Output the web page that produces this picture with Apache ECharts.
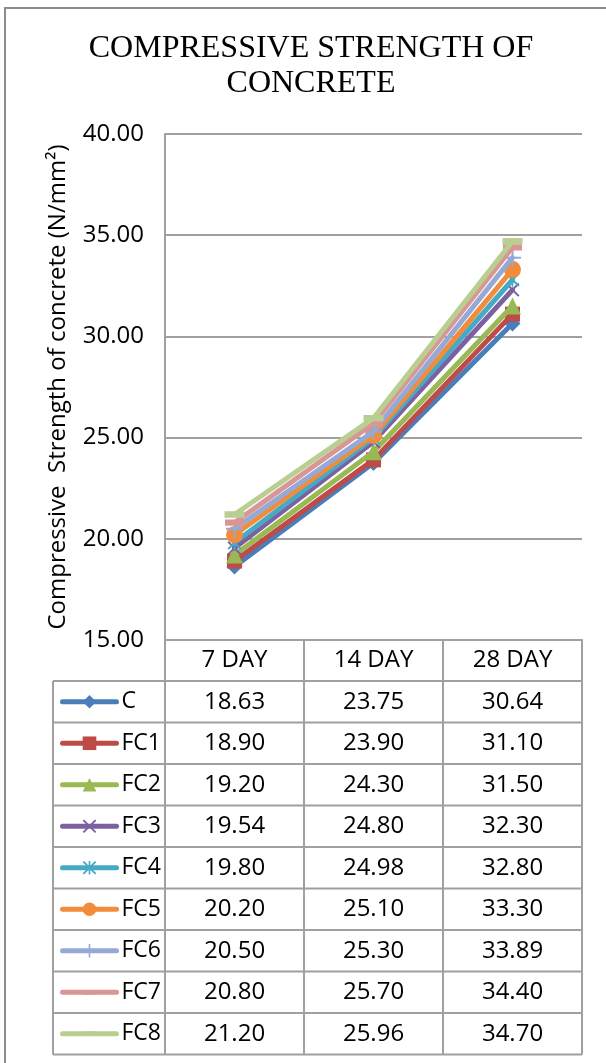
<!DOCTYPE html>
<html><head><meta charset="utf-8">
<script src="https://cdn.jsdelivr.net/npm/echarts@6/dist/echarts.min.js"></script>
<style>html,body{margin:0;padding:0;background:#fff}#c{width:606px;height:1063px}</style>
</head><body><div id="c"></div>
<script>
// ---- data ----
const categories = ['7 DAY', '14 DAY', '28 DAY'];
const seriesNames = ['C', 'FC1', 'FC2', 'FC3', 'FC4', 'FC5', 'FC6', 'FC7', 'FC8'];
const valC   = [18.63, 23.75, 30.64];
const valFC1 = [18.90, 23.90, 31.10];
const valFC2 = [19.20, 24.30, 31.50];
const valFC3 = [19.54, 24.80, 32.30];
const valFC4 = [19.80, 24.98, 32.80];
const valFC5 = [20.20, 25.10, 33.30];
const valFC6 = [20.50, 25.30, 33.89];
const valFC7 = [20.80, 25.70, 34.40];
const valFC8 = [21.20, 25.96, 34.70];
const yMin = 15, yMax = 40, yStep = 5;
const titleLines = ['COMPRESSIVE STRENGTH OF', 'CONCRETE'];
const yAxisName = 'Compressive  Strength of concrete (N/mm\u00B2)';

const allValues = [valC, valFC1, valFC2, valFC3, valFC4, valFC5, valFC6, valFC7, valFC8];

// ---- styles ----
const colors = ['#4a7ebb', '#be4b48', '#98b954', '#7d60a0', '#46aac5', '#f08c3c', '#93aad6', '#d99694', '#b8cf91'];
const symX = 'path://M1,0 L5,4 L9,0 L10,1 L6,5 L10,9 L9,10 L5,6 L1,10 L0,9 L4,5 L0,1 Z';
const symStar = 'path://M1,0 L5,4 L9,0 L10,1 L6,5 L10,9 L9,10 L5,6 L1,10 L0,9 L4,5 L0,1 Z M4.4,0 H5.6 V10 H4.4 Z';
const symPlus = 'path://M4.4,0 H5.6 V4.4 H10 V5.6 H5.6 V10 H4.4 V5.6 H0 V4.4 H4.4 Z';
const symDash = 'path://M0,0 L0.001,0 L0,0.001 Z M0,3.4 H10 V6.6 H0 Z M10,10 L9.999,10 L10,9.999 Z';
const symbols = ['diamond', 'rect', 'triangle', symX, symStar, 'circle', symPlus, symDash, symDash];
const symbolSizes = [16, 15, 17, 14, 14, 17, 17, 19, 20];

const FONT = '"Open Sans", sans-serif';
const gridLeft = 165, gridRight = 582, gridTop = 134, gridBottom = 640;
const headerH = 41, rowH = 41.5, tableLeft = 53;
const lineCol = '#a0a0a0';

const chart = echarts.init(document.getElementById('c'), null, {renderer: 'canvas'});

const series = seriesNames.map((n, i) => ({
  name: n,
  type: 'line',
  data: allValues[i],
  symbol: symbols[i],
  symbolSize: symbolSizes[i],
  showAllSymbol: true,
  z: 2 + i,
  lineStyle: {width: 5, color: colors[i], cap: 'round', join: 'round'},
  itemStyle: {color: colors[i]},
  emphasis: {disabled: true}
}));

chart.setOption({
  animation: false,
  grid: {left: gridLeft, right: 606 - gridRight, top: gridTop, bottom: 1063 - gridBottom, containLabel: false},
  xAxis: {
    type: 'category', data: categories, boundaryGap: true,
    axisLine: {show: true, lineStyle: {color: lineCol, width: 2}},
    axisTick: {show: false},
    axisLabel: {fontFamily: FONT, fontSize: 24, color: '#000', margin: 8, interval: 0}
  },
  yAxis: {
    type: 'value', min: yMin, max: yMax, interval: yStep,
    axisLine: {show: true, lineStyle: {color: lineCol, width: 2}},
    axisTick: {show: false},
    splitLine: {lineStyle: {color: lineCol, width: 2}},
    axisLabel: {fontFamily: FONT, fontSize: 24, color: '#000', margin: 21, formatter: v => v.toFixed(2)},
    name: yAxisName, nameLocation: 'middle', nameRotate: 90, nameGap: 95,
    nameTextStyle: {fontFamily: FONT, fontSize: 24, color: '#000'}
  },
  legend: {
    orient: 'vertical', left: 60, top: gridBottom + headerH, padding: 0, itemGap: 0,
    itemWidth: 54, itemHeight: 17, selectedMode: false,
    lineStyle: {width: 5, cap: 'round'},
    textStyle: {fontFamily: FONT, fontSize: 23, color: '#000', lineHeight: rowH},
    data: seriesNames
  },
  series: series
});

// ---- table built from data ----
const centers = categories.map(c => chart.convertToPixel({xAxisIndex: 0}, c));
const band = (gridRight - gridLeft) / categories.length;
const bounds = [];
for (let i = 0; i <= categories.length; i++) bounds.push(gridLeft + i * band);
const tableTop = gridBottom + headerH;
const tableBottom = tableTop + seriesNames.length * rowH;

const g = [];
g.push({type: 'rect', shape: {x: 5, y: 8, width: 700, height: 1100}, style: {fill: 'none', stroke: '#8c8c8c', lineWidth: 2}, silent: true});
g.push({type: 'text', x: 311, y: 49, style: {text: titleLines[0], fontFamily: '"Liberation Serif", serif', fontSize: 32, fill: '#000', align: 'center', verticalAlign: 'middle'}});
g.push({type: 'text', x: 311, y: 84, style: {text: titleLines[1], fontFamily: '"Liberation Serif", serif', fontSize: 32, fill: '#000', align: 'center', verticalAlign: 'middle'}});

function hline(x1, x2, y) { g.push({type: 'line', shape: {x1, y1: y, x2, y2: y}, style: {stroke: lineCol, lineWidth: 2}, silent: true}); }
function vline(x, y1, y2) { g.push({type: 'line', shape: {x1: x, y1, x2: x, y2}, style: {stroke: lineCol, lineWidth: 2}, silent: true}); }

hline(gridLeft, gridRight, tableTop);
for (let r = 0; r <= seriesNames.length; r++) hline(tableLeft, gridRight, tableTop + r * rowH);
vline(tableLeft, tableTop, tableBottom);
vline(gridLeft, gridBottom, tableBottom);
for (let i = 1; i <= categories.length; i++) vline(bounds[i], gridBottom, tableBottom);

allValues.forEach((vals, r) => {
  vals.forEach((v, j) => {
    g.push({type: 'text', x: centers[j], y: tableTop + r * rowH + rowH / 2,
      style: {text: v.toFixed(2), fontFamily: FONT, fontSize: 24, fill: '#000', align: 'center', verticalAlign: 'middle'}, silent: true});
  });
});

chart.setOption({graphic: g});
</script>
</body></html>
